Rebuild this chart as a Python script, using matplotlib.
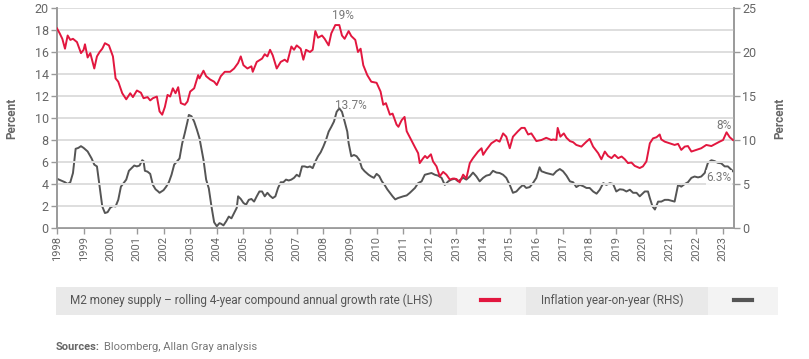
import matplotlib
matplotlib.use("Agg")
import matplotlib.pyplot as plt
from matplotlib.patches import Rectangle
from matplotlib.lines import Line2D

plt.rcParams['font.family'] = ['Roboto', 'DejaVu Sans']

# ---------------- data ----------------
m2_years = [1998.0, 1998.1, 1998.2, 1998.3, 1998.4, 1998.5, 1998.6, 1998.75, 1998.9, 1999.0, 1999.05, 1999.15,
            1999.25, 1999.4, 1999.5, 1999.6, 1999.7, 1999.8, 1999.95, 2000.1, 2000.2, 2000.3, 2000.45, 2000.6,
            2000.75, 2000.85, 2001.0, 2001.15, 2001.25, 2001.4, 2001.5, 2001.6, 2001.75, 2001.85, 2001.95, 2002.05,
            2002.15, 2002.25, 2002.35, 2002.45, 2002.55, 2002.65, 2002.8, 2002.9, 2003.0, 2003.15, 2003.3, 2003.35,
            2003.5, 2003.6, 2003.75, 2003.9, 2004.0, 2004.15, 2004.3, 2004.5, 2004.65, 2004.8, 2004.9, 2005.0,
            2005.15, 2005.3, 2005.35, 2005.5, 2005.7, 2005.8, 2005.9, 2006.0, 2006.1, 2006.25, 2006.4, 2006.55,
            2006.65, 2006.8, 2006.9, 2007.0, 2007.15, 2007.25, 2007.35, 2007.5, 2007.6, 2007.7, 2007.8, 2007.95,
            2008.05, 2008.2, 2008.3, 2008.45, 2008.6, 2008.7, 2008.8, 2008.95, 2009.05, 2009.2, 2009.3, 2009.4,
            2009.5, 2009.65, 2009.8, 2010.0, 2010.15, 2010.25, 2010.35, 2010.5, 2010.6, 2010.75, 2010.82, 2010.94,
            2011.05, 2011.13, 2011.3, 2011.45, 2011.56, 2011.62, 2011.75, 2011.82, 2011.9, 2012.04, 2012.12, 2012.25,
            2012.37, 2012.5, 2012.62, 2012.75, 2012.87, 2013.0, 2013.12, 2013.25, 2013.37, 2013.5, 2013.62, 2013.81,
            2013.94, 2014.0, 2014.12, 2014.31, 2014.5, 2014.62, 2014.75, 2014.87, 2015.0, 2015.12, 2015.31, 2015.44,
            2015.56, 2015.69, 2015.81, 2016.0, 2016.19, 2016.37, 2016.56, 2016.63, 2016.75, 2016.8, 2016.9, 2017.03,
            2017.13, 2017.26, 2017.38, 2017.5, 2017.69, 2017.88, 2018.0, 2018.13, 2018.32, 2018.44, 2018.57, 2018.69,
            2018.82, 2018.94, 2019.07, 2019.2, 2019.32, 2019.44, 2019.57, 2019.69, 2019.88, 2020.0, 2020.13, 2020.26,
            2020.38, 2020.51, 2020.63, 2020.69, 2020.82, 2021.0, 2021.19, 2021.32, 2021.44, 2021.57, 2021.69, 2021.82,
            2021.94, 2022.07, 2022.19, 2022.38, 2022.57, 2022.76, 2022.88, 2023.01, 2023.14, 2023.26, 2023.38]
m2_growth = [18.15, 17.7, 17.2, 16.3, 17.5, 17.1, 17.2, 16.9, 15.9, 16.2, 16.7, 15.5,
             15.9, 14.5, 15.6, 16.0, 16.3, 16.8, 16.6, 15.6, 13.6, 13.3, 12.25, 11.7,
             12.25, 11.9, 12.5, 12.3, 11.8, 11.9, 11.6, 11.8, 11.95, 10.6, 10.3, 11.0,
             12.1, 11.95, 12.7, 12.25, 12.8, 11.35, 11.2, 11.5, 12.4, 12.7, 13.9, 13.6,
             14.3, 13.8, 13.5, 13.3, 13.0, 13.8, 14.2, 14.2, 14.5, 15.0, 15.6, 14.8,
             14.5, 14.7, 14.2, 15.1, 15.4, 15.8, 15.6, 16.2, 15.7, 14.5, 15.1, 15.3,
             15.1, 16.5, 16.2, 16.6, 16.3, 15.3, 16.2, 16.0, 16.2, 17.9, 17.3, 17.5,
             17.2, 16.6, 17.7, 18.45, 18.45, 17.5, 17.2, 17.9, 17.45, 17.1, 16.0, 16.3,
             14.8, 13.9, 13.3, 13.2, 12.4, 11.2, 11.35, 10.3, 10.4, 9.4, 9.2, 9.8,
             10.1, 8.8, 8.0, 7.3, 6.8, 5.9, 6.35, 6.55, 6.35, 6.7, 6.05, 5.6,
             4.7, 5.1, 4.85, 4.4, 4.5, 4.45, 4.15, 4.85, 4.5, 5.9, 6.35, 6.95,
             7.25, 6.65, 7.1, 7.7, 8.0, 7.85, 8.6, 8.3, 7.25, 8.3, 8.8, 9.1,
             9.1, 8.5, 8.6, 7.9, 8.0, 8.2, 8.0, 8.05, 8.0, 9.1, 8.3, 8.6,
             8.2, 7.9, 7.8, 7.55, 7.4, 7.85, 8.1, 7.4, 6.8, 6.25, 6.95, 6.55,
             6.35, 6.65, 6.35, 6.5, 6.25, 5.9, 5.95, 5.65, 5.45, 5.6, 6.05, 7.7,
             8.15, 8.25, 8.5, 8.05, 7.85, 7.7, 7.55, 7.65, 7.1, 7.4, 7.45, 6.95,
             7.05, 7.15, 7.25, 7.55, 7.45, 7.7, 7.85, 8.0, 8.7, 8.25, 8.0]

cpi_years = [1998.0, 1998.15, 1998.3, 1998.4, 1998.5, 1998.6, 1998.7, 1998.8, 1998.9, 1999.0, 1999.15, 1999.3,
             1999.4, 1999.5, 1999.6, 1999.7, 1999.8, 1999.9, 2000.0, 2000.1, 2000.2, 2000.3, 2000.4, 2000.5,
             2000.6, 2000.7, 2000.8, 2000.9, 2001.0, 2001.1, 2001.2, 2001.25, 2001.3, 2001.4, 2001.5, 2001.6,
             2001.7, 2001.8, 2001.85, 2002.0, 2002.1, 2002.2, 2002.3, 2002.4, 2002.5, 2002.6, 2002.7, 2002.8,
             2002.9, 2002.95, 2003.05, 2003.15, 2003.25, 2003.35, 2003.5, 2003.6, 2003.7, 2003.8, 2003.9, 2004.0,
             2004.1, 2004.15, 2004.25, 2004.35, 2004.45, 2004.55, 2004.65, 2004.75, 2004.8, 2004.9, 2005.0, 2005.1,
             2005.2, 2005.3, 2005.4, 2005.5, 2005.6, 2005.7, 2005.8, 2005.9, 2006.0, 2006.1, 2006.2, 2006.3,
             2006.4, 2006.5, 2006.6, 2006.7, 2006.8, 2006.9, 2007.0, 2007.1, 2007.2, 2007.3, 2007.4, 2007.5,
             2007.6, 2007.7, 2007.8, 2007.9, 2008.0, 2008.1, 2008.2, 2008.3, 2008.4, 2008.5, 2008.6, 2008.7,
             2008.8, 2008.9, 2008.95, 2009.05, 2009.15, 2009.25, 2009.35, 2009.45, 2009.55, 2009.7, 2009.8, 2009.9,
             2010.0, 2010.1, 2010.2, 2010.3, 2010.4, 2010.5, 2010.6, 2010.7, 2010.8, 2011.0, 2011.13, 2011.25,
             2011.44, 2011.56, 2011.69, 2011.81, 2011.94, 2012.06, 2012.19, 2012.31, 2012.44, 2012.56, 2012.69, 2012.81,
             2012.94, 2013.06, 2013.25, 2013.37, 2013.5, 2013.62, 2013.75, 2013.87, 2014.0, 2014.12, 2014.25, 2014.37,
             2014.5, 2014.62, 2014.75, 2014.87, 2015.0, 2015.12, 2015.25, 2015.37, 2015.5, 2015.62, 2015.75, 2015.87,
             2016.0, 2016.12, 2016.19, 2016.37, 2016.56, 2016.63, 2016.75, 2016.88, 2017.0, 2017.13, 2017.26, 2017.38,
             2017.5, 2017.63, 2017.76, 2017.88, 2018.0, 2018.13, 2018.26, 2018.38, 2018.51, 2018.63, 2018.76, 2018.88,
             2019.0, 2019.13, 2019.26, 2019.38, 2019.51, 2019.63, 2019.76, 2019.88, 2020.07, 2020.19, 2020.26, 2020.36,
             2020.45, 2020.57, 2020.69, 2020.82, 2020.95, 2021.07, 2021.19, 2021.32, 2021.44, 2021.57, 2021.69, 2021.82,
             2021.94, 2022.07, 2022.19, 2022.32, 2022.44, 2022.57, 2022.69, 2022.82, 2022.94, 2023.07, 2023.19, 2023.26,
             2023.38]
cpi_inflation = [5.6, 5.4, 5.2, 5.0, 5.2, 6.25, 9.0, 9.1, 9.3, 9.1, 8.7, 7.9,
                 7.2, 7.0, 4.7, 2.45, 1.7, 1.8, 2.3, 2.5, 2.45, 3.2, 4.7, 5.1,
                 5.5, 6.5, 6.8, 7.1, 7.0, 7.1, 7.7, 7.6, 6.5, 6.4, 6.15, 4.9,
                 4.4, 4.15, 4.0, 4.3, 4.7, 5.2, 6.05, 7.2, 7.55, 7.9, 9.6, 10.8,
                 12.1, 12.85, 12.7, 12.1, 11.2, 10.2, 7.75, 5.5, 4.5, 2.45, 0.65, 0.2,
                 0.55, 0.5, 0.3, 0.75, 1.3, 1.1, 1.7, 2.3, 3.6, 3.3, 2.85, 2.65,
                 3.2, 3.3, 3.0, 3.6, 4.15, 4.15, 3.6, 4.0, 3.65, 3.4, 3.6, 4.55,
                 5.2, 5.2, 5.5, 5.4, 5.5, 5.7, 6.05, 5.85, 7.0, 7.0, 6.9, 7.0,
                 6.8, 7.55, 8.15, 8.6, 9.25, 10.0, 10.95, 11.5, 12.1, 13.2, 13.6, 13.2,
                 12.1, 10.95, 9.65, 8.15, 8.3, 8.15, 7.75, 6.8, 6.45, 6.05, 5.85, 5.7,
                 6.15, 5.9, 5.3, 4.9, 4.4, 4.0, 3.6, 3.25, 3.4, 3.6, 3.7, 4.0,
                 4.55, 5.1, 5.3, 6.05, 6.15, 6.25, 6.05, 5.95, 5.7, 4.9, 5.3, 5.5,
                 5.6, 5.3, 5.7, 5.5, 5.85, 6.3, 5.85, 5.3, 5.7, 5.95, 6.05, 6.5,
                 6.3, 6.25, 6.05, 5.7, 4.9, 4.0, 4.15, 4.55, 4.9, 4.55, 4.65, 5.1,
                 5.7, 6.9, 6.45, 6.25, 6.1, 6.05, 6.45, 6.7, 6.45, 5.95, 5.3, 5.2,
                 4.65, 4.9, 4.75, 4.55, 4.55, 4.15, 3.9, 4.35, 5.1, 4.9, 5.1, 5.0,
                 4.15, 4.4, 4.35, 4.15, 4.35, 4.0, 4.0, 3.6, 4.15, 4.15, 3.4, 2.45,
                 2.1, 3.0, 3.0, 3.2, 3.2, 3.1, 3.0, 4.9, 4.7, 5.0, 5.2, 5.7,
                 5.85, 5.75, 5.85, 6.25, 7.4, 7.7, 7.6, 7.4, 7.35, 7.0, 7.0, 6.8,
                 6.45]

year_ticks = list(range(1998, 2024))
left_ticks = [0, 2, 4, 6, 8, 10, 12, 14, 16, 18, 20]
right_ticks = [0, 5, 10, 15, 20, 25]

m2_label = "M2 money supply \u2013 rolling 4-year compound annual growth rate (LHS)"
cpi_label = "Inflation year-on-year (RHS)"

RED = "#e2173f"
DARK = "#555555"
TXT = "#666666"
GRID = "#dedede"
SPINE = "#9a9a9a"

W, H = 809, 359
fig = plt.figure(figsize=(W / 100, H / 100), dpi=100)
ax = fig.add_axes([57 / W, 1 - 228 / H, (734 - 57) / W, 220 / H])
ax2 = ax.twinx()

ax.set_xlim(1998, 2023.42)
ax.set_ylim(0, 20)
ax2.set_ylim(0, 25)

for t in left_ticks:
    ax.axhline(t, color=GRID, lw=1.4, zorder=0)

ax.plot(m2_years, m2_growth, color=RED, lw=1.4, zorder=3)
ax2.plot(cpi_years, cpi_inflation, color=DARK, lw=1.4, zorder=3)

ax.set_xticks(year_ticks)
ax.set_xticklabels([str(y) for y in year_ticks], rotation=90, fontsize=8, color=TXT)
ax.set_yticks(left_ticks)
ax.set_yticklabels([str(t) for t in left_ticks], fontsize=9, color=TXT)
ax2.set_yticks(right_ticks)
ax2.set_yticklabels([str(t) for t in right_ticks], fontsize=9, color=TXT)

ax.tick_params(axis='x', length=4, width=1, color=SPINE, pad=2)
ax.tick_params(axis='y', length=4, width=1, color=SPINE, pad=2)
ax2.tick_params(axis='y', length=4, width=1, color=SPINE, pad=2)

for a in (ax, ax2):
    a.spines['top'].set_visible(False)
    for s in ('left', 'right', 'bottom'):
        a.spines[s].set_color(SPINE)
        a.spines[s].set_linewidth(1.2)
ax.set_zorder(ax2.get_zorder() + 1)
ax.patch.set_visible(False)

ax.set_ylabel("Percent", fontsize=8.5, fontweight='bold', color=TXT, labelpad=12)
ax2.set_ylabel("Percent", fontsize=8.5, fontweight='bold', color=TXT, labelpad=12)

# annotations
ax.text(2008.75, 19.3, "19%", fontsize=8.5, color="#777777", ha='center', va='center')
ax.text(2009.05, 11.1, "13.7%", fontsize=8.5, color="#777777", ha='center', va='center')
ax.text(2023.05, 9.35, "8%", fontsize=8.5, color="#777777", ha='center', va='center')
ax.text(2022.85, 4.6, "6.3%", fontsize=8.5, color="#777777", ha='center', va='center',
        bbox=dict(facecolor='white', edgecolor='none', pad=0.5, alpha=0.85), zorder=5)

# legend boxes (figure pixel coordinates)
def px_rect(x0, y0, x1, y1, color):
    fig.patches.append(Rectangle((x0 / W, 1 - y1 / H), (x1 - x0) / W, (y1 - y0) / H,
                                 transform=fig.transFigure, facecolor=color, edgecolor='none'))

px_rect(56, 287, 457, 315, "#e9e9e9")
px_rect(457, 287, 526, 315, "#f3f3f3")
px_rect(526, 287, 708, 315, "#e9e9e9")
px_rect(708, 287, 778, 315, "#f3f3f3")

fig.text(70 / W, 1 - 300 / H, m2_label, fontsize=8.5, color="#555555", va='center', ha='left')
fig.text(541 / W, 1 - 300 / H, cpi_label, fontsize=8.5, color="#555555", va='center', ha='left')
fig.lines.append(Line2D([481 / W, 499 / W], [1 - 300 / H] * 2, transform=fig.transFigure, color=RED, lw=3))
fig.lines.append(Line2D([734 / W, 752 / W], [1 - 300 / H] * 2, transform=fig.transFigure, color=DARK, lw=3))

fig.text(56 / W, 1 - 347 / H, "Sources:", fontsize=8, color="#666666", fontweight='bold', va='center')
fig.text(104 / W, 1 - 347 / H, "Bloomberg, Allan Gray analysis", fontsize=8, color="#777777", va='center')

fig.savefig("out.png", dpi=100)
